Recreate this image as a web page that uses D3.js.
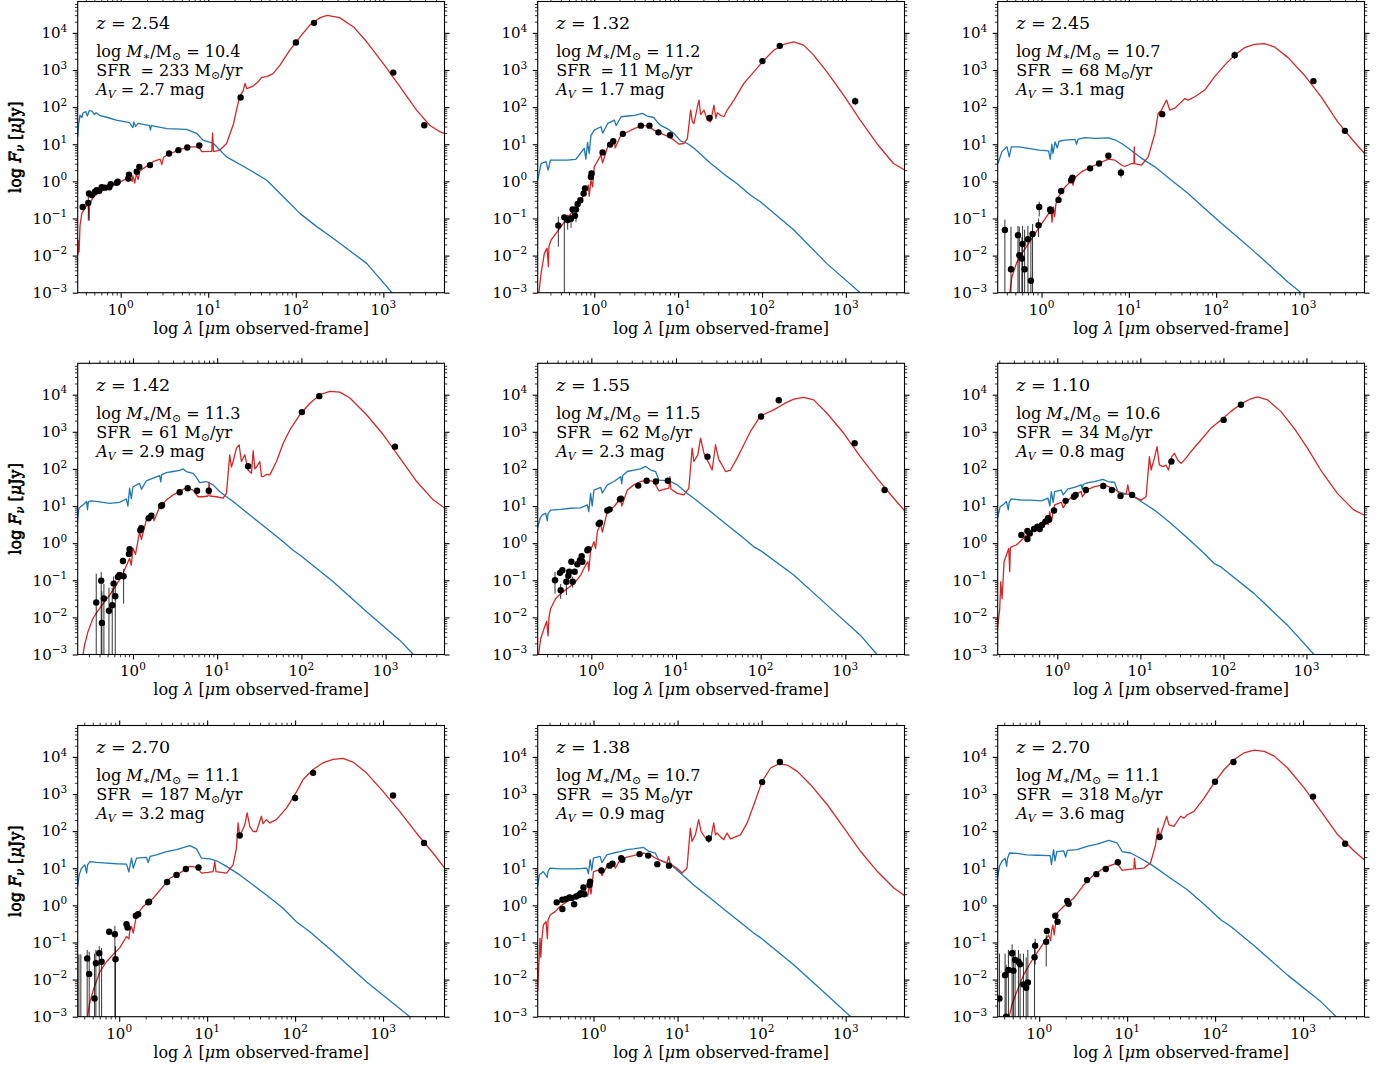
<!DOCTYPE html>
<html><head><meta charset="utf-8">
<script src="https://cdn.jsdelivr.net/npm/d3@7"></script>
<style>
body{margin:0;background:#fff}
svg{display:block}
text{font-family:"DejaVu Serif","Liberation Serif",serif;fill:#000;font-weight:normal}
</style>
</head><body>
<svg id="c" width="1392" height="1070"></svg>
<script>
// ---------- panel parameters ----------
const redshifts = ["2.54","1.32","2.45","1.42","1.55","1.10","2.70","1.38","2.70"];
const logMass   = ["10.4","11.2","10.7","11.3","11.5","10.6","11.1","10.7","11.1"];
const sfrVals   = ["233","11","68","61","62","34","187","35","318"];
const avVals    = ["2.7","1.7","3.1","2.9","2.3","0.8","3.2","0.9","3.6"];
const xMinVals  = [0.3228,0.2116,0.3146,0.2207,0.2326,0.1915,0.3374,0.2171,0.3374];
const xMaxVal = 5000, yMinVal = 1e-3, yMaxVal = 7e4;
const xTickVals = [1,10,100,1000];
const xTickExp  = ["0","1","2","3"];
const yTickVals = [1e-3,1e-2,1e-1,1,10,100,1e3,1e4];
const yTickExp  = ["\u22123","\u22122","\u22121","0","1","2","3","4"];

// ---------- curves: [log10 lambda(um), log10 F(uJy)] ----------
const blue1=[[-0.49,1.2],[-0.48,1.55],[-0.465,1.78],[-0.445,1.72],[-0.43,1.84],[-0.40,1.88],[-0.38,1.76],[-0.36,1.9],[-0.33,1.9],[-0.30,1.8],[-0.28,1.85],[-0.24,1.78],[-0.15,1.72],[-0.05,1.65],[0.1,1.58],[0.14,1.45],[0.15,1.6],[0.17,1.48],[0.2,1.56],[0.33,1.5],[0.34,1.38],[0.35,1.5],[0.53,1.42],[0.75,1.40],[0.87,1.29],[0.94,1.11],[1.06,1.02],[1.21,0.66],[1.48,0.30],[1.67,0.03],[1.86,-0.42],[2.05,-0.87],[2.24,-1.22],[2.43,-1.54],[2.81,-2.21],[3.1,-3.0],[3.2,-3.2]];
const red1=[[-0.49,-2.0],[-0.48,-1.6],[-0.475,-1.9],[-0.465,-1.2],[-0.445,-0.87],[-0.41,-0.73],[-0.37,-0.6],[-0.36,-1.05],[-0.355,-0.6],[-0.31,-0.42],[-0.24,-0.28],[-0.12,-0.15],[0.0,-0.01],[0.1,0.12],[0.13,0.0],[0.14,0.15],[0.16,-0.05],[0.18,0.2],[0.2,0.05],[0.22,0.28],[0.26,0.35],[0.37,0.53],[0.45,0.6],[0.47,0.45],[0.49,0.65],[0.53,0.71],[0.68,0.86],[0.79,0.93],[0.89,0.93],[0.925,0.80],[1.04,0.81],[1.05,1.3],[1.06,0.8],[1.13,0.84],[1.21,1.02],[1.29,1.56],[1.33,2.0],[1.36,2.28],[1.40,2.45],[1.42,2.64],[1.44,2.5],[1.48,2.53],[1.52,2.58],[1.57,2.68],[1.61,2.80],[1.67,2.82],[1.74,2.90],[1.82,3.13],[1.93,3.53],[2.05,3.89],[2.16,4.21],[2.28,4.41],[2.36,4.47],[2.5,4.41],[2.66,4.16],[2.81,3.76],[3.0,3.17],[3.19,2.55],[3.38,1.92],[3.53,1.51],[3.65,1.33],[3.70,1.29]];
const blue2=[[-0.675,0.03],[-0.634,0.48],[-0.575,0.53],[-0.55,0.3],[-0.523,0.57],[-0.44,0.57],[-0.32,0.57],[-0.22,0.59],[-0.18,0.71],[-0.12,0.89],[-0.1,0.6],[-0.08,1.05],[-0.06,0.75],[-0.04,1.24],[0,1.38],[0.08,1.47],[0.1,1.3],[0.16,1.56],[0.24,1.65],[0.26,1.5],[0.32,1.74],[0.4,1.76],[0.48,1.78],[0.575,1.83],[0.63,1.76],[0.71,1.72],[0.75,1.60],[0.79,1.51],[0.87,1.42],[0.95,1.29],[1.03,1.09],[1.11,1.02],[1.19,0.89],[1.39,0.48],[1.59,0.12],[1.70,-0.06],[1.86,-0.37],[1.98,-0.55],[2.38,-1.31],[2.77,-2.21],[3.17,-3.0],[3.25,-3.2]];
const red2=[[-0.675,-3.3],[-0.634,-2.48],[-0.595,-1.94],[-0.563,-1.8],[-0.547,-2.3],[-0.54,-1.75],[-0.515,-1.58],[-0.456,-1.40],[-0.396,-1.22],[-0.317,-0.96],[-0.238,-0.78],[-0.159,-0.51],[-0.099,-0.24],[-0.07,-0.1],[-0.06,-0.4],[-0.04,0.03],[-0.02,-0.15],[0,0.39],[0.079,0.71],[0.1,0.5],[0.159,0.93],[0.238,1.11],[0.25,0.9],[0.317,1.24],[0.396,1.33],[0.476,1.42],[0.575,1.51],[0.634,1.49],[0.713,1.38],[0.793,1.29],[0.872,1.22],[0.951,1.11],[1.011,1.0],[1.07,1.02],[1.11,1.15],[1.149,1.92],[1.17,1.6],[1.189,1.56],[1.229,2.0],[1.249,2.19],[1.268,1.8],[1.308,1.92],[1.348,1.65],[1.387,1.6],[1.427,2.05],[1.45,1.7],[1.467,1.85],[1.506,1.78],[1.546,1.74],[1.585,1.92],[1.665,2.19],[1.784,2.64],[1.902,2.95],[2.021,3.26],[2.14,3.53],[2.259,3.69],[2.378,3.76],[2.497,3.67],[2.616,3.40],[2.774,2.95],[2.973,2.32],[3.171,1.65],[3.369,1.02],[3.567,0.48],[3.706,0.30]];
const blue3=[[-0.5,0.48],[-0.453,0.80],[-0.396,0.93],[-0.37,0.66],[-0.346,0.93],[-0.26,0.93],[-0.15,0.89],[-0.03,0.84],[0.08,0.82],[0.1,0.6],[0.118,1.0],[0.13,0.75],[0.156,1.06],[0.18,0.9],[0.2,1.08],[0.27,1.11],[0.384,1.13],[0.40,1.0],[0.42,1.14],[0.499,1.18],[0.613,1.16],[0.765,1.17],[0.841,1.12],[0.917,1.02],[0.994,0.89],[1.146,0.62],[1.298,0.39],[1.488,0.03],[1.679,-0.33],[1.869,-0.73],[2.059,-1.13],[2.25,-1.51],[2.44,-1.90],[2.63,-2.30],[2.821,-2.71],[2.973,-3.0],[3.05,-3.2]];
const red3=[[-0.37,-3.1],[-0.339,-2.57],[-0.282,-2.17],[-0.225,-1.94],[-0.148,-1.67],[-0.072,-1.40],[0.004,-1.13],[0.08,-0.87],[0.11,-0.8],[0.12,-1.1],[0.137,-0.69],[0.15,-0.95],[0.165,-0.6],[0.194,-0.42],[0.27,-0.15],[0.346,0.03],[0.36,-0.1],[0.38,0.1],[0.461,0.26],[0.537,0.35],[0.651,0.48],[0.765,0.60],[0.841,0.57],[0.917,0.44],[0.955,0.40],[1.032,0.48],[1.058,0.48],[1.062,0.93],[1.066,0.48],[1.146,0.44],[1.222,0.66],[1.298,1.29],[1.336,1.83],[1.374,1.92],[1.412,2.10],[1.431,2.19],[1.469,1.92],[1.526,1.97],[1.584,2.10],[1.641,2.23],[1.679,2.19],[1.755,2.28],[1.869,2.46],[1.983,2.82],[2.097,3.13],[2.212,3.40],[2.326,3.60],[2.44,3.69],[2.554,3.71],[2.668,3.62],[2.821,3.34],[3.011,2.86],[3.201,2.28],[3.392,1.60],[3.582,1.06],[3.715,0.71]];
const blue4=[[-0.662,0.53],[-0.642,0.94],[-0.595,1.03],[-0.55,1.12],[-0.54,0.9],[-0.53,1.12],[-0.495,1.14],[-0.396,1.11],[-0.277,1.07],[-0.159,1.1],[-0.079,1.19],[-0.06,1.0],[-0.04,1.48],[-0.02,1.2],[0,1.52],[0.079,1.61],[0.1,1.45],[0.159,1.68],[0.238,1.75],[0.317,1.82],[0.33,1.65],[0.34,1.84],[0.396,1.90],[0.476,1.93],[0.555,1.96],[0.595,2.0],[0.634,1.93],[0.713,1.88],[0.753,1.77],[0.793,1.63],[0.872,1.66],[0.951,1.57],[1.03,1.39],[1.11,1.25],[1.189,1.12],[1.387,0.76],[1.585,0.40],[1.784,0.04],[1.902,-0.19],[1.982,-0.32],[2.378,-1.04],[2.774,-1.85],[3.171,-2.62],[3.329,-3.0],[3.4,-3.15]];
const red4=[[-0.6,-3.1],[-0.575,-2.75],[-0.535,-2.39],[-0.476,-2.03],[-0.396,-1.76],[-0.277,-1.40],[-0.198,-1.13],[-0.119,-0.82],[-0.04,-0.41],[-0.02,-0.6],[0,-0.14],[0.03,-0.3],[0.079,0.31],[0.1,0.1],[0.159,0.62],[0.238,0.80],[0.25,0.6],[0.317,0.98],[0.396,1.16],[0.476,1.30],[0.555,1.39],[0.634,1.50],[0.713,1.43],[0.773,1.25],[0.832,1.25],[0.892,1.27],[0.904,1.64],[0.915,1.27],[0.991,1.25],[1.07,1.21],[1.11,1.34],[1.149,2.38],[1.169,2.05],[1.189,2.20],[1.229,2.56],[1.26,2.65],[1.288,2.20],[1.328,2.38],[1.367,1.97],[1.407,1.88],[1.427,2.49],[1.447,2.0],[1.467,2.05],[1.506,2.2],[1.526,1.8],[1.546,1.79],[1.585,1.85],[1.625,1.84],[1.704,2.20],[1.784,2.69],[1.863,3.05],[1.982,3.46],[2.101,3.77],[2.22,4.0],[2.338,4.09],[2.457,4.07],[2.576,3.91],[2.774,3.46],[2.973,2.92],[3.171,2.29],[3.369,1.66],[3.567,1.16],[3.706,0.94]];
const blue5=[[-0.635,0.40],[-0.606,0.67],[-0.578,0.76],[-0.539,0.8],[-0.52,0.6],[-0.511,0.8],[-0.48,0.89],[-0.362,0.91],[-0.244,0.94],[-0.126,0.95],[-0.047,1.03],[-0.03,0.85],[-0.008,1.34],[0.01,1.0],[0.031,1.43],[0.11,1.50],[0.13,1.35],[0.189,1.57],[0.267,1.66],[0.346,1.79],[0.36,1.6],[0.37,1.82],[0.425,1.93],[0.503,1.97],[0.582,2.0],[0.641,2.07],[0.7,1.97],[0.759,1.93],[0.798,1.70],[0.857,1.69],[0.936,1.66],[1.015,1.57],[1.133,1.34],[1.211,1.21],[1.408,0.85],[1.604,0.49],[1.801,0.13],[1.919,-0.10],[1.998,-0.20],[2.391,-0.86],[2.784,-1.67],[3.177,-2.48],[3.374,-3.0],[3.45,-3.15]];
const red5=[[-0.635,-3.2],[-0.598,-2.57],[-0.558,-2.30],[-0.527,-2.1],[-0.511,-2.5],[-0.50,-2.0],[-0.48,-1.76],[-0.421,-1.49],[-0.362,-1.36],[-0.283,-1.22],[-0.204,-1.09],[-0.126,-0.86],[-0.067,-0.59],[-0.04,-0.5],[-0.03,-0.75],[-0.008,-0.19],[0.031,0.04],[0.05,-0.15],[0.071,0.31],[0.11,0.53],[0.13,0.3],[0.189,0.85],[0.267,0.98],[0.346,1.21],[0.36,1.0],[0.425,1.43],[0.503,1.57],[0.582,1.66],[0.661,1.70],[0.739,1.66],[0.798,1.41],[0.857,1.45],[0.916,1.48],[0.928,1.79],[0.94,1.46],[1.015,1.34],[1.093,1.30],[1.152,1.48],[1.191,2.56],[1.211,2.20],[1.258,2.38],[1.29,2.83],[1.329,2.43],[1.368,2.25],[1.427,1.97],[1.467,2.65],[1.506,2.25],[1.545,2.1],[1.585,1.93],[1.644,1.97],[1.722,2.29],[1.801,2.65],[1.88,3.01],[1.998,3.43],[2.155,3.59],[2.273,3.75],[2.391,3.88],[2.509,3.93],[2.627,3.86],[2.784,3.50],[2.981,2.96],[3.177,2.33],[3.374,1.75],[3.571,1.21],[3.708,0.85]];
const blue6=[[-0.72,0.67],[-0.689,0.98],[-0.653,1.03],[-0.613,1.12],[-0.59,0.9],[-0.58,1.1],[-0.553,1.19],[-0.433,1.16],[-0.312,1.16],[-0.192,1.14],[-0.112,1.21],[-0.09,1.0],[-0.072,1.39],[-0.05,1.1],[-0.032,1.39],[0.048,1.43],[0.07,1.3],[0.128,1.46],[0.208,1.50],[0.288,1.57],[0.3,1.45],[0.31,1.58],[0.368,1.63],[0.449,1.66],[0.549,1.72],[0.609,1.66],[0.689,1.64],[0.729,1.39],[0.809,1.34],[0.889,1.30],[1.009,1.12],[1.169,0.89],[1.37,0.53],[1.57,0.13],[1.77,-0.28],[1.89,-0.55],[1.97,-0.64],[2.371,-1.36],[2.771,-2.21],[3.092,-3.0],[3.2,-3.25]];
const red6=[[-0.72,-2.3],[-0.693,-1.76],[-0.681,-1.04],[-0.665,-1.5],[-0.641,-0.50],[-0.613,-0.32],[-0.585,-0.14],[-0.573,-0.77],[-0.565,-0.12],[-0.553,-0.10],[-0.493,-0.05],[-0.433,0.08],[-0.352,0.26],[-0.272,0.40],[-0.192,0.53],[-0.132,0.67],[-0.11,0.5],[-0.092,0.85],[-0.07,0.6],[-0.032,1.03],[0.048,1.10],[0.07,0.95],[0.128,1.16],[0.208,1.30],[0.288,1.39],[0.3,1.25],[0.368,1.45],[0.449,1.52],[0.549,1.57],[0.609,1.53],[0.689,1.46],[0.769,1.32],[0.829,1.32],[0.849,1.57],[0.869,1.32],[0.929,1.25],[1.009,1.16],[1.069,1.25],[1.109,2.33],[1.129,1.97],[1.169,2.29],[1.201,2.60],[1.229,2.11],[1.27,2.06],[1.31,2.1],[1.338,1.97],[1.378,2.33],[1.41,2.42],[1.45,2.24],[1.49,2.15],[1.55,2.29],[1.61,2.47],[1.73,2.78],[1.85,3.10],[1.97,3.31],[2.091,3.55],[2.211,3.75],[2.331,3.89],[2.411,3.94],[2.531,3.86],[2.691,3.55],[2.851,3.10],[3.012,2.56],[3.172,1.97],[3.372,1.34],[3.572,0.89],[3.712,0.74]];
const blue7=[[-0.473,0.51],[-0.455,0.82],[-0.428,1.0],[-0.39,1.09],[-0.37,0.87],[-0.36,1.09],[-0.333,1.18],[-0.258,1.16],[-0.144,1.14],[-0.03,1.12],[0.083,1.11],[0.11,0.9],[0.14,1.27],[0.16,1.0],[0.197,1.27],[0.311,1.29],[0.33,1.15],[0.35,1.32],[0.424,1.36],[0.538,1.45],[0.652,1.50],[0.803,1.61],[0.879,1.52],[0.936,1.27],[1.03,1.25],[1.106,1.20],[1.22,1.05],[1.371,0.82],[1.523,0.55],[1.674,0.28],[1.864,-0.08],[2.015,-0.44],[2.167,-0.71],[2.432,-1.25],[2.811,-2.06],[3.189,-2.78],[3.303,-3.0],[3.37,-3.15]];
const red7=[[-0.37,-3.2],[-0.341,-2.69],[-0.295,-2.28],[-0.22,-1.79],[-0.144,-1.52],[-0.068,-1.32],[0.008,-1.14],[0.083,-0.84],[0.11,-0.9],[0.12,-0.7],[0.14,-0.57],[0.16,-0.75],[0.197,-0.26],[0.273,-0.03],[0.386,0.19],[0.5,0.51],[0.576,0.73],[0.689,0.87],[0.803,1.05],[0.879,1.03],[0.936,0.87],[1.011,0.89],[1.068,0.91],[1.087,1.18],[1.1,0.91],[1.22,0.87],[1.295,1.09],[1.333,1.54],[1.352,2.22],[1.371,1.86],[1.428,2.17],[1.455,2.49],[1.485,2.13],[1.523,1.99],[1.561,1.99],[1.617,2.40],[1.636,2.2],[1.674,2.31],[1.712,2.22],[1.788,2.31],[1.902,2.62],[2.015,3.05],[2.091,3.39],[2.205,3.66],[2.318,3.84],[2.432,3.93],[2.545,3.96],[2.659,3.86],[2.811,3.57],[3.0,3.07],[3.189,2.53],[3.379,1.95],[3.568,1.41],[3.701,1.0]];
const blue8=[[-0.664,0.51],[-0.644,0.82],[-0.596,0.91],[-0.55,0.75],[-0.54,0.92],[-0.516,1.0],[-0.397,0.98],[-0.278,0.98],[-0.159,0.99],[-0.079,1.0],[-0.06,0.85],[-0.04,1.23],[-0.02,0.95],[0,1.27],[0.079,1.32],[0.1,1.15],[0.159,1.36],[0.238,1.41],[0.318,1.45],[0.397,1.50],[0.477,1.52],[0.596,1.56],[0.656,1.46],[0.735,1.41],[0.775,1.23],[0.834,1.18],[0.914,1.11],[1.033,0.87],[1.192,0.55],[1.391,0.19],[1.589,-0.17],[1.788,-0.53],[1.907,-0.75],[1.987,-0.87],[2.384,-1.61],[2.781,-2.42],[3.059,-3.0],[3.15,-3.2]];
const red8=[[-0.664,-2.33],[-0.652,-1.70],[-0.636,-0.89],[-0.626,-1.4],[-0.616,-0.95],[-0.596,-0.53],[-0.564,-0.44],[-0.548,-0.9],[-0.54,-0.4],[-0.516,-0.26],[-0.457,-0.17],[-0.397,-0.03],[-0.318,0.10],[-0.238,0.19],[-0.159,0.33],[-0.099,0.42],[-0.07,0.25],[-0.048,0.55],[-0.03,0.3],[0,0.91],[0.079,0.96],[0.1,0.8],[0.159,1.05],[0.238,1.14],[0.26,1.0],[0.318,1.23],[0.397,1.30],[0.477,1.34],[0.596,1.41],[0.675,1.36],[0.755,1.25],[0.834,1.18],[0.874,1.14],[0.894,1.32],[0.914,1.12],[0.993,1.0],[1.053,0.87],[1.112,1.0],[1.152,2.08],[1.172,1.72],[1.212,1.90],[1.251,2.31],[1.279,1.99],[1.319,1.86],[1.351,1.77],[1.391,1.74],[1.43,2.22],[1.45,1.9],[1.47,1.95],[1.51,1.85],[1.549,1.77],[1.589,1.95],[1.629,1.79],[1.748,1.90],[1.828,2.22],[1.907,2.71],[2.006,3.34],[2.106,3.70],[2.205,3.81],[2.304,3.78],[2.424,3.61],[2.582,3.25],[2.781,2.71],[2.98,2.08],[3.178,1.45],[3.377,0.91],[3.576,0.46],[3.715,0.24]];
const blue9=[[-0.473,0.73],[-0.452,1.05],[-0.426,1.18],[-0.388,1.27],[-0.37,1.05],[-0.36,1.27],[-0.338,1.41],[-0.255,1.40],[-0.141,1.36],[-0.027,1.35],[0.125,1.34],[0.14,1.1],[0.163,1.50],[0.18,1.2],[0.2,1.45],[0.278,1.47],[0.3,1.3],[0.32,1.48],[0.43,1.50],[0.544,1.59],[0.658,1.65],[0.791,1.75],[0.886,1.68],[0.943,1.45],[1.038,1.41],[1.152,1.27],[1.304,1.05],[1.494,0.73],[1.684,0.42],[1.875,0.03],[2.065,-0.39],[2.179,-0.57],[2.445,-1.09],[2.825,-1.88],[3.205,-2.6],[3.376,-3.0],[3.45,-3.15]];
const red9=[[-0.36,-3.2],[-0.312,-2.69],[-0.255,-2.33],[-0.179,-1.88],[-0.103,-1.56],[-0.027,-1.29],[0.049,-1.02],[0.106,-0.80],[0.13,-0.95],[0.14,-0.7],[0.156,-0.53],[0.17,-0.8],[0.202,-0.21],[0.278,-0.03],[0.392,0.19],[0.506,0.55],[0.62,0.82],[0.734,1.0],[0.829,1.09],[0.886,1.14],[0.943,0.94],[1.0,0.96],[1.076,0.98],[1.084,1.27],[1.095,0.98],[1.19,1.0],[1.266,1.14],[1.323,1.63],[1.35,2.08],[1.373,1.86],[1.418,2.17],[1.449,2.40],[1.475,2.17],[1.532,2.13],[1.608,2.40],[1.646,2.35],[1.684,2.44],[1.76,2.53],[1.875,2.89],[1.989,3.30],[2.103,3.66],[2.217,3.93],[2.331,4.11],[2.445,4.18],[2.559,4.15],[2.673,4.02],[2.825,3.70],[3.015,3.16],[3.205,2.53],[3.395,1.90],[3.586,1.45],[3.719,1.18]];

// ---------- photometry: [log lambda, log F, log lower, log upper]; lower -9 = below axis; F null = bar only ----------
const pts1=[[-0.434,-0.69],[-0.37,-0.58,-1.05,-0.36],[-0.362,-0.325],[-0.33,-0.37],[-0.293,-0.28],[-0.274,-0.236],[-0.244,-0.254],[-0.217,-0.16],[-0.179,-0.17],[-0.13,-0.16],[-0.114,-0.08],[-0.045,-0.04],[-0.034,-0.012],[0.087,0.078],[0.095,0.177],[0.183,0.257],[0.213,0.39],[0.335,0.437],[0.552,0.75],[0.659,0.84],[0.761,0.912],[0.898,0.966],[1.37,2.259],[2.002,3.74],[2.208,4.27],[3.114,2.93],[3.468,1.51]];
const pts2=[[-0.428,-1.19,-1.76,-0.95],[-0.357,-0.97,-9,-0.9],[-0.317,-1.04,-1.3,-0.9],[-0.277,-1.0,-1.25,-0.9],[-0.258,-0.76,-1.1,-0.7],[-0.218,-0.76,-1.1,-0.7],[-0.23,-0.93],[-0.198,-0.61],[-0.166,-0.51],[-0.127,-0.33],[-0.111,-0.19],[-0.04,0.12],[-0.032,0.21],[0.099,0.78],[0.19,0.99],[0.226,1.08],[0.341,1.28],[0.555,1.50],[0.658,1.50],[0.765,1.32],[0.904,1.24],[1.375,1.71],[2.005,3.24],[2.212,3.65],[3.111,2.16,2.05,2.26]];
const pts3=[[-0.42,-1.31,-9,-1.03],[-0.35,-2.37,-9,-1.22],[-0.27,-1.45,-9,-1.2],[-0.255,-1.99,-9,-1.22],[-0.217,-1.69,-9,-1.2],[-0.225,-2.08,-9,-1.5],[-0.194,-2.37,-9,-1.3],[-0.156,-1.56,-9,-1.2],[-0.122,-2.68,-9,-1.4],[-0.103,-1.42,-9,-1.15],[-0.034,-1.18,-1.5,-1.0],[-0.027,-0.69,-0.95,-0.55],[0.099,-0.76,-0.85,-0.68],[0.105,-0.8],[0.194,-0.5],[0.225,-0.26],[0.339,0.03],[0.354,0.10],[0.556,0.35],[0.659,0.48],[0.765,0.69],[0.91,0.23,0.1,0.35],[1.382,1.81],[2.212,3.40,3.3,3.5],[3.114,2.70],[3.475,1.36]];
const pts4=[[-0.436,-1.60,-9,-0.82],[-0.377,-1.01,-9,-0.78],[-0.369,-2.15,-9,-1.3],[-0.345,-1.49,-9,-1.1],[-0.285,-1.82,-9,-1.2],[-0.246,-1.67,-9,-1.2],[-0.23,-1.09,-1.5,-0.9],[-0.21,-1.43,-9,-1.0],[-0.178,-0.91],[-0.159,-0.86],[-0.119,-0.48],[-0.111,-0.89,-1.63,-0.7],[-0.048,-0.29],[-0.04,-0.16],[0.087,0.35],[0.099,0.40],[0.186,0.67],[0.218,0.74],[0.333,1.0],[0.345,1.02],[0.555,1.37],[0.65,1.48],[0.761,1.41],[0.9,1.41],[1.367,2.07],[2.006,3.53],[2.212,3.96],[3.111,2.60]];
const pts5=[[-0.429,-1.0,-1.36,-0.77],[-0.37,-0.80],[-0.362,-1.27,-1.5,-1.1],[-0.342,-0.73],[-0.295,-1.04,-1.4,-0.85],[-0.271,-0.88],[-0.262,-0.77],[-0.236,-0.50],[-0.22,-1.04,-1.2,-0.9],[-0.197,-0.77],[-0.165,-0.57],[-0.134,-0.46],[-0.114,-0.35],[-0.106,-0.5],[-0.047,-0.19],[-0.035,-0.16],[0.087,0.52],[0.102,0.55],[0.189,0.88],[0.216,0.91],[0.338,1.18],[0.35,1.2],[0.554,1.55],[0.653,1.68],[0.763,1.66],[0.904,1.68],[1.372,2.33],[2.005,3.41],[2.214,3.85],[3.11,2.69],[3.464,1.43]];
const pts6=[[-0.433,0.22],[-0.36,0.33],[-0.36,0.11],[-0.332,0.26],[-0.28,0.38],[-0.24,0.44],[-0.212,0.38],[-0.184,0.49],[-0.144,0.58],[-0.112,0.67],[-0.1,0.63],[-0.04,0.88],[0.1,1.14],[0.2,1.25],[0.22,1.30],[0.344,1.43],[0.553,1.54],[0.657,1.43],[0.761,1.27],[0.901,1.30],[1.374,2.20],[2.003,3.32],[2.211,3.73]];
const pts7=[[-0.458,null,-9,-1.32],[-0.436,null,-9,-1.32],[-0.364,-1.43,-9,-1.2],[-0.341,-1.85,-9,-1.25],[-0.28,-2.51,-9,-1.3],[-0.265,-1.56,-9,-1.2],[-0.227,-1.29,-9,-1.1],[-0.2,-1.52,-9,-1.15],[-0.114,-0.71],[-0.049,-0.78,-9,-0.55],[-0.042,-1.45,-9,-1.1],[0.083,-0.51,-0.62,-0.42],[0.095,-0.60],[0.189,-0.28],[0.216,-0.24],[0.33,0.08],[0.34,0.1],[0.545,0.63],[0.652,0.82],[0.758,0.98],[0.902,1.02],[1.371,1.88],[2.0,2.89,2.8,2.98],[2.205,3.57,3.5,3.65],[3.114,2.96],[3.466,1.68]];
const pts8=[[-0.437,0.08],[-0.37,0.15],[-0.37,-0.10],[-0.326,0.17],[-0.286,0.21],[-0.26,0.2],[-0.23,0.03],[-0.207,0.24],[-0.171,0.28],[-0.151,0.33],[-0.119,0.48],[-0.111,0.30],[-0.048,0.55],[-0.04,0.64],[0.095,0.94],[0.191,1.07],[0.226,1.12],[0.33,1.27],[0.342,1.23],[0.548,1.38],[0.651,1.34],[0.759,1.11],[0.898,1.07],[1.371,1.80,1.68,1.9],[2.006,3.32],[2.217,3.86]];
const pts9=[[-0.452,-2.51,-9,-1.3],[-0.388,-1.88,-9,-1.3],[-0.376,-3.0,-9,-1.6],[-0.35,-1.74,-9,-1.2],[-0.308,-1.29,-9,-1.05],[-0.293,-1.76,-9,-1.2],[-0.274,-1.47,-9,-1.2],[-0.236,-1.52,-9,-1.2],[-0.217,-1.59,-9,-1.3],[-0.179,-2.13,-9,-1.3],[-0.148,-2.22,-9,-1.4],[-0.129,-2.08,-9,-1.2],[-0.053,-1.40,-9,-1.0],[-0.046,-1.09,-1.6,-0.9],[0.08,-0.98,-1.65,-0.8],[0.087,-0.69],[0.183,-0.28],[0.209,-0.44],[0.319,0.12],[0.335,0.04],[0.544,0.68],[0.65,0.84],[0.757,0.98],[0.894,1.16],[1.369,1.84],[1.999,3.33],[2.209,3.86],[3.114,2.93],[3.479,1.66,1.6,1.72]];

const blues=[blue1,blue2,blue3,blue4,blue5,blue6,blue7,blue8,blue9];
const reds=[red1,red2,red3,red4,red5,red6,red7,red8,red9];
const ptsAll=[pts1,pts2,pts3,pts4,pts5,pts6,pts7,pts8,pts9];

// ---------- layout ----------
const colLeft=[77.7,537.7,997.7], rowTop=[1.5,363.3,725.5];
const W=366.8, H=291.2;
const RED="#d62728", BLUE="#1f77b4";
const svg=d3.select("#c");
const defs=svg.append("defs");
const p10=v=>Math.pow(10,v);

function minorTicks(lo,hi){
  const out=[];
  for(let e=Math.floor(Math.log10(lo))-1;e<=Math.ceil(Math.log10(hi));e++)
    for(let m=2;m<=9;m++){const v=m*Math.pow(10,e); if(v>=lo*1.0001&&v<=hi*0.9999) out.push(v);}
  return out;
}

for(let i=0;i<9;i++){
  const L=colLeft[i%3], T=rowTop[Math.floor(i/3)];
  const x=d3.scaleLog().domain([xMinVals[i],xMaxVal]).range([0,W]);
  const y=d3.scaleLog().domain([yMinVal,yMaxVal]).range([H,0]);
  const g=svg.append("g").attr("transform",`translate(${L},${T})`);
  defs.append("clipPath").attr("id","clip"+i).append("rect").attr("width",W).attr("height",H);
  const plot=g.append("g").attr("clip-path",`url(#clip${i})`);
  const line=d3.line().x(d=>x(p10(d[0]))).y(d=>y(p10(d[1])));
  plot.append("path").attr("d",line(blues[i])).attr("fill","none").attr("stroke",BLUE).attr("stroke-width",1.3).attr("stroke-linejoin","round");
  plot.append("path").attr("d",line(reds[i])).attr("fill","none").attr("stroke",RED).attr("stroke-width",1.3).attr("stroke-linejoin","round");
  const pts=ptsAll[i];
  plot.selectAll("line.err").data(pts.filter(d=>d.length>2)).enter().append("line")
    .attr("x1",d=>x(p10(d[0]))).attr("x2",d=>x(p10(d[0])))
    .attr("y1",d=>y(p10(d[2]))).attr("y2",d=>y(p10(d[3])))
    .attr("stroke","#000").attr("stroke-opacity",0.8).attr("stroke-width",1);
  plot.selectAll("circle").data(pts.filter(d=>d[1]!==null)).enter().append("circle")
    .attr("cx",d=>x(p10(d[0]))).attr("cy",d=>y(p10(d[1]))).attr("r",3.2).attr("fill","#000");

  // axes: ticks outward on all four sides
  const xMinor=minorTicks(xMinVals[i],xMaxVal), yMinor=minorTicks(yMinVal,yMaxVal);
  const mk=(axis,vals,size,w)=>{const a=g.append("g");a.call(axis.tickValues(vals).tickSize(size).tickSizeOuter(0).tickFormat(""));
    a.select(".domain").remove(); a.selectAll("line").attr("stroke","#000").attr("stroke-width",w); return a;};
  mk(d3.axisBottom(x),xTickVals,5,1.1).attr("transform",`translate(0,${H})`);
  mk(d3.axisBottom(x),xMinor,2.8,0.8).attr("transform",`translate(0,${H})`);
  mk(d3.axisTop(x),xTickVals,5,1.1);
  mk(d3.axisTop(x),xMinor,2.8,0.8);
  mk(d3.axisLeft(y),yTickVals,5,1.1);
  mk(d3.axisLeft(y),yMinor,2.8,0.8);
  mk(d3.axisRight(y),yTickVals,5,1.1).attr("transform",`translate(${W},0)`);
  mk(d3.axisRight(y),yMinor,2.8,0.8).attr("transform",`translate(${W},0)`);
  g.append("rect").attr("width",W).attr("height",H).attr("fill","none").attr("stroke","#000").attr("stroke-width",1.1);

  // tick labels
  xTickVals.forEach((v,k)=>{
    const t=g.append("text").attr("x",x(v)).attr("y",H+22).attr("text-anchor","middle").attr("font-size",15);
    t.append("tspan").text("10");
    t.append("tspan").attr("dy",-6.5).attr("font-size",10.5).text(xTickExp[k]);
  });
  yTickVals.forEach((v,k)=>{
    const t=g.append("text").attr("x",-10.5).attr("y",y(v)+5.3).attr("text-anchor","end").attr("font-size",15);
    t.append("tspan").text("10");
    t.append("tspan").attr("dy",-6.5).attr("font-size",10.5).text(yTickExp[k]);
  });

  // axis labels
  const xl=g.append("text").attr("x",W/2).attr("y",H+41).attr("text-anchor","middle").attr("font-size",16);
  xl.append("tspan").text("log ");
  xl.append("tspan").attr("font-style","italic").text("\u03bb");
  xl.append("tspan").text(" [");
  xl.append("tspan").attr("font-style","italic").text("\u03bc");
  xl.append("tspan").text("m observed-frame]");
  const yl=g.append("text").attr("transform",`translate(${20.5-L},${H/2}) rotate(-90)`)
    .attr("text-anchor","middle").attr("font-size",16).attr("text-rendering","geometricPrecision");
  yl.append("tspan").text("log ");
  yl.append("tspan").attr("font-style","italic").text("F");
  yl.append("tspan").attr("font-style","italic").attr("font-size",11.5).attr("dy",3).text("\u03bd");
  yl.append("tspan").attr("dy",-3).text(" [");
  yl.append("tspan").attr("font-style","italic").text("\u03bc");
  yl.append("tspan").text("Jy]");

  // annotations
  const tx=18.5;
  const t1=g.append("text").attr("x",tx).attr("y",27.5).attr("font-size",17.5);
  t1.append("tspan").attr("font-style","italic").text("z");
  t1.append("tspan").text(" = "+redshifts[i]);
  const t2=g.append("text").attr("x",tx).attr("y",55.5).attr("font-size",16);
  t2.append("tspan").text("log ");
  t2.append("tspan").attr("font-style","italic").text("M");
  t2.append("tspan").attr("font-size",11).attr("dy",3).text("\u2217");
  t2.append("tspan").attr("dy",-3).text("/M");
  t2.append("tspan").attr("font-size",11).attr("dy",3).text("\u2299");
  t2.append("tspan").attr("dy",-3).text(" = "+logMass[i]);
  const t3=g.append("text").attr("x",tx).attr("y",74.5).attr("font-size",16);
  t3.append("tspan").text("SFR\u00a0 = "+sfrVals[i]+" M");
  t3.append("tspan").attr("font-size",11).attr("dy",3).text("\u2299");
  t3.append("tspan").attr("dy",-3).text("/yr");
  const t4=g.append("text").attr("x",tx).attr("y",93.5).attr("font-size",16);
  t4.append("tspan").attr("font-style","italic").text("A");
  t4.append("tspan").attr("font-style","italic").attr("font-size",11).attr("dy",3).text("V");
  t4.append("tspan").attr("dy",-3).text(" = "+avVals[i]+" mag");
}
</script>
</body></html>
